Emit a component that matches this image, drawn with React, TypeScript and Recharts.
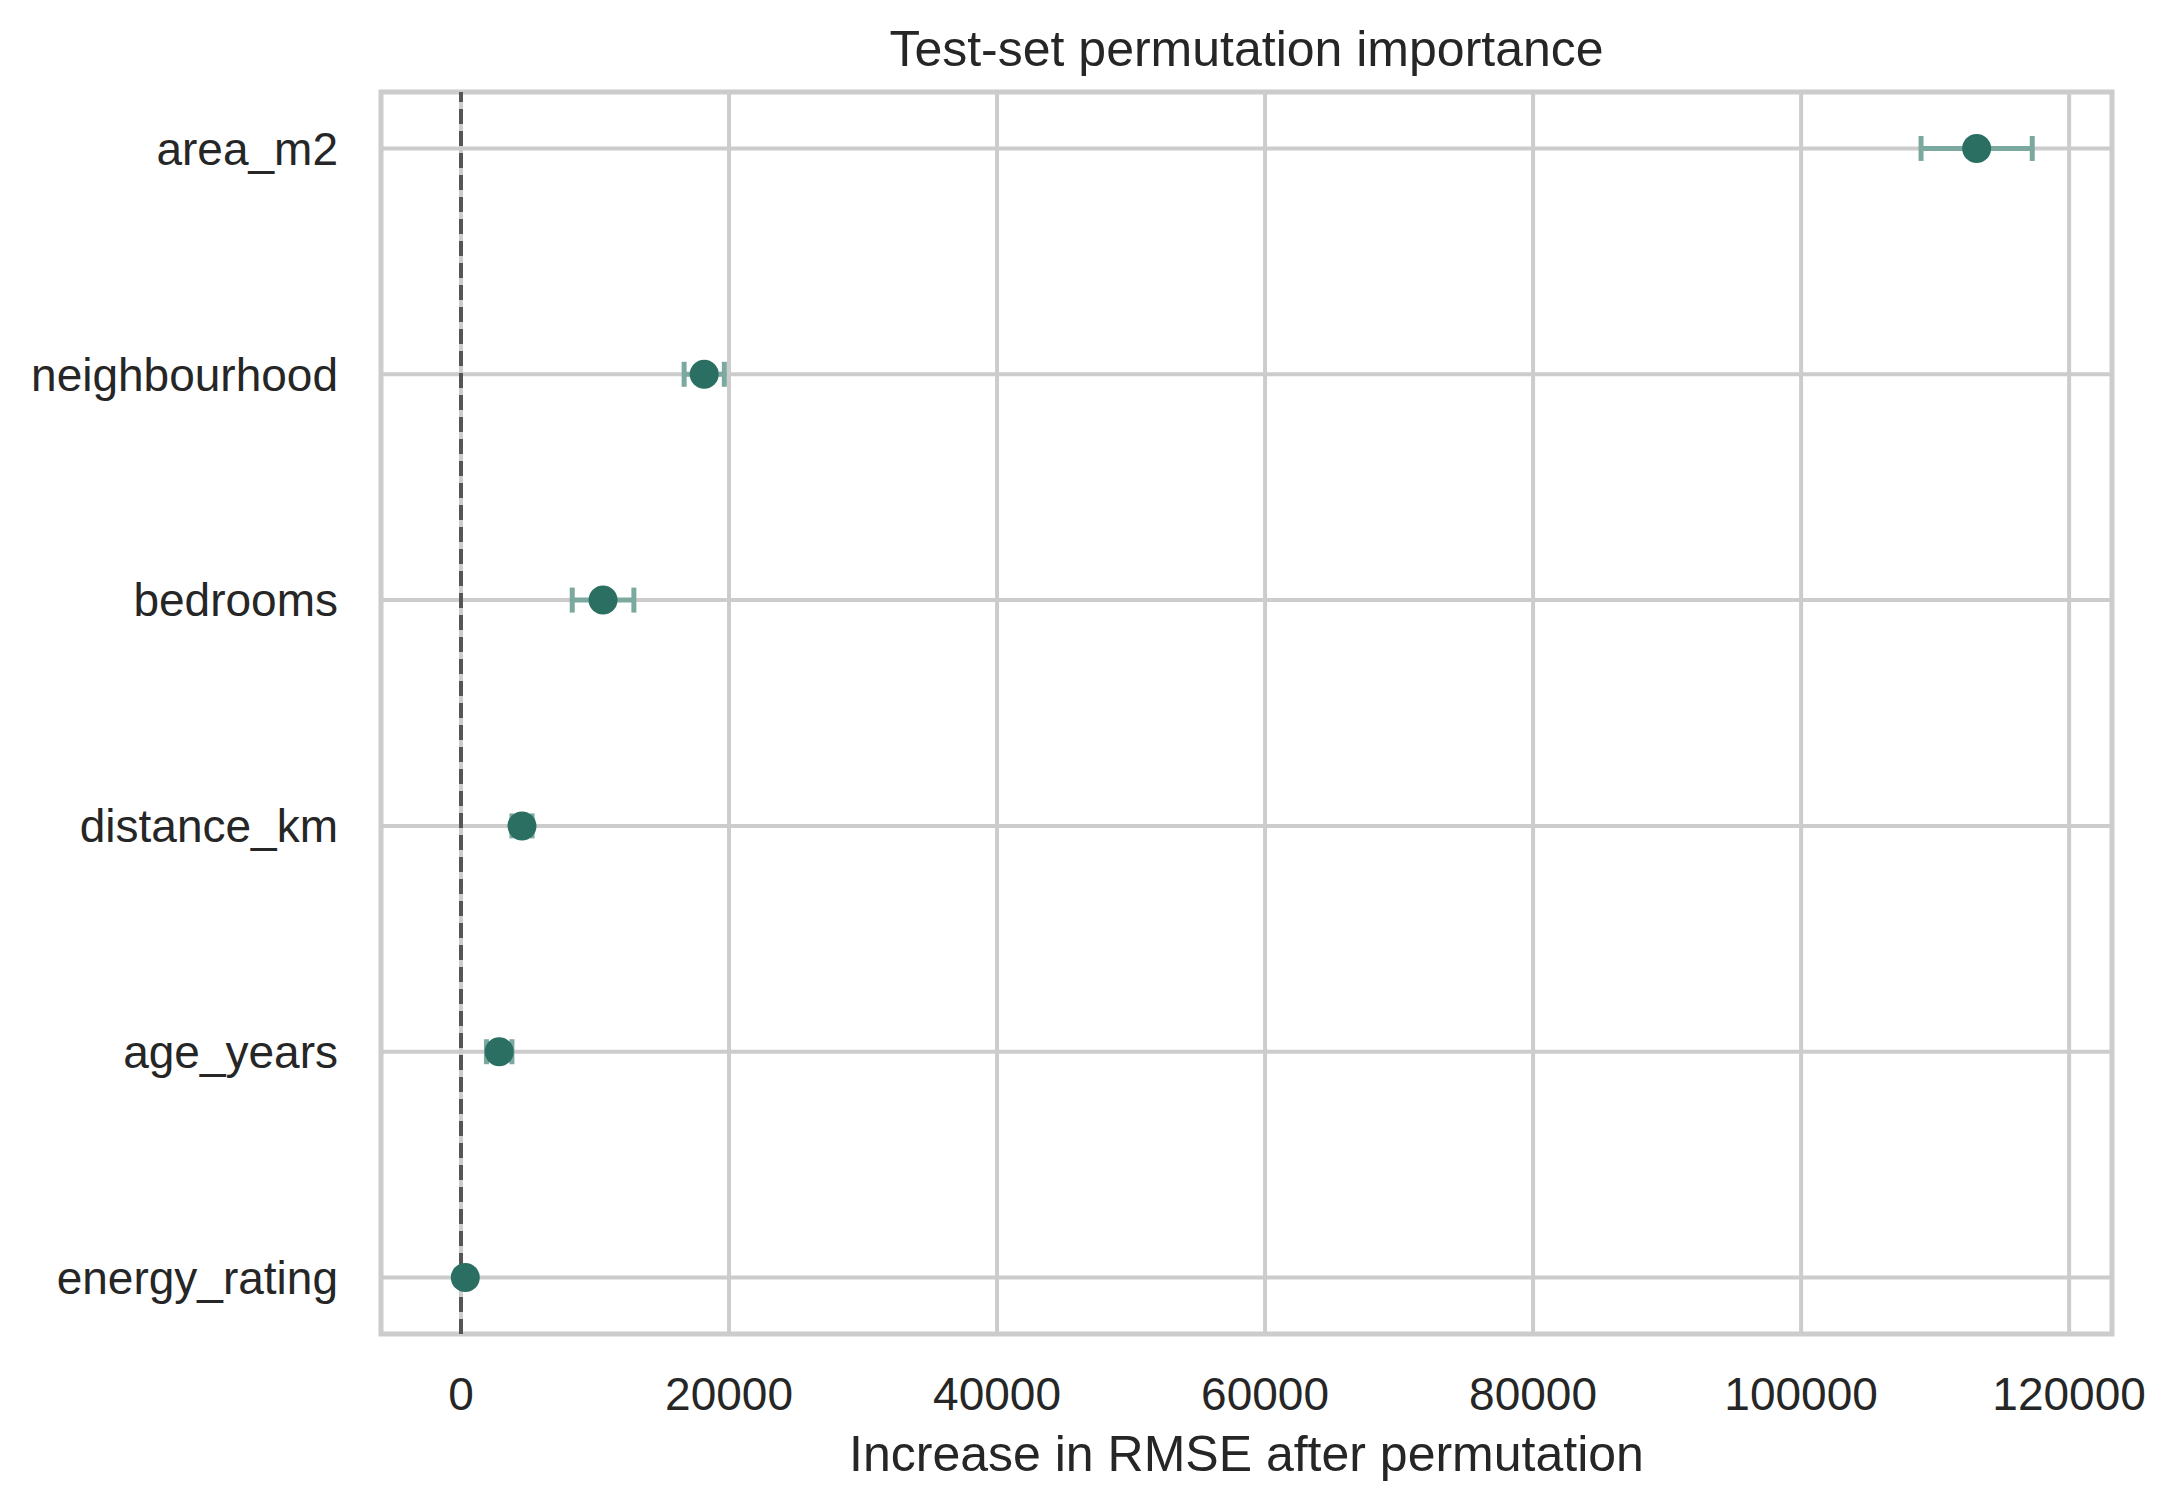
import React from 'react';
import { ScatterChart, Scatter, XAxis, YAxis, CartesianGrid, ErrorBar, ReferenceLine, ReferenceArea, Label } from 'recharts';

const features = ['area_m2', 'neighbourhood', 'bedrooms', 'distance_km', 'age_years', 'energy_rating'];
const importanceMean = [113100, 18150, 10600, 4550, 2850, 320];
const importanceStd = [4150, 1500, 2300, 750, 950, 300];
const xTicks = [0, 20000, 40000, 60000, 80000, 100000, 120000];
const xDomain = [-5970, 123200];
const yDomain = [-0.25, 5.25];

const data = features.map((name, i) => ({
  name,
  pos: i,
  mean: importanceMean[i],
  std: importanceStd[i],
}));

const FONT = '"Liberation Sans", Arial, sans-serif';
const TEXT = '#262626';
const GRID = '#cccccc';
const DOT = '#2a6f62';
const ERR = '#7ca99f';

const Dot = (props: any) => {
  const { cx, cy } = props;
  if (cx == null || cy == null) return null;
  return <circle cx={cx} cy={cy} r={14.5} fill={DOT} />;
};

export default function App() {
  return (
    <div style={{ position: 'absolute', left: 0, top: 0, width: 2178, height: 1512, background: '#fff' }}>
      <ScatterChart width={2178} height={1512} margin={{ top: 92, right: 66, left: 0, bottom: 0 }}>
        <CartesianGrid stroke={GRID} strokeWidth={4} />
        <XAxis
          type="number"
          dataKey="mean"
          domain={xDomain}
          ticks={xTicks}
          allowDataOverflow
          height={178}
          axisLine={false}
          tickLine={false}
          tickSize={0}
          tickMargin={43}
          interval={0}
          tick={{ fill: TEXT, fontSize: 46, fontFamily: FONT }}
        >
          <Label
            value="Increase in RMSE after permutation"
            position="insideBottom"
            offset={41}
            style={{ fill: TEXT, fontSize: 50, fontFamily: FONT }}
          />
        </XAxis>
        <YAxis
          type="number"
          dataKey="pos"
          domain={yDomain}
          ticks={[0, 1, 2, 3, 4, 5]}
          reversed
          allowDataOverflow
          width={381}
          axisLine={false}
          tickLine={false}
          tickSize={0}
          tickMargin={43}
          interval={0}
          tickFormatter={(v: number) => features[v] ?? ''}
          tick={{ fill: TEXT, fontSize: 46, fontFamily: FONT }}
        />
        <ReferenceArea
          x1={xDomain[0]}
          x2={xDomain[1]}
          y1={yDomain[0]}
          y2={yDomain[1]}
          fill="none"
          fillOpacity={0}
          stroke={GRID}
          strokeWidth={5}
        />
        <ReferenceLine x={0} stroke="#555555" strokeWidth={4} strokeDasharray="15 7" />
        <Scatter data={data} shape={Dot} isAnimationActive={false}>
          <ErrorBar dataKey="std" direction="x" width={12.5} stroke={ERR} strokeWidth={5} isAnimationActive={false} />
        </Scatter>
      </ScatterChart>
      <svg width={2178} height={120} style={{ position: 'absolute', left: 0, top: 0 }}>
        <text x={1246.5} y={66} textAnchor="middle" fill={TEXT} fontSize={50} fontFamily={FONT}>
          Test-set permutation importance
        </text>
      </svg>
    </div>
  );
}
